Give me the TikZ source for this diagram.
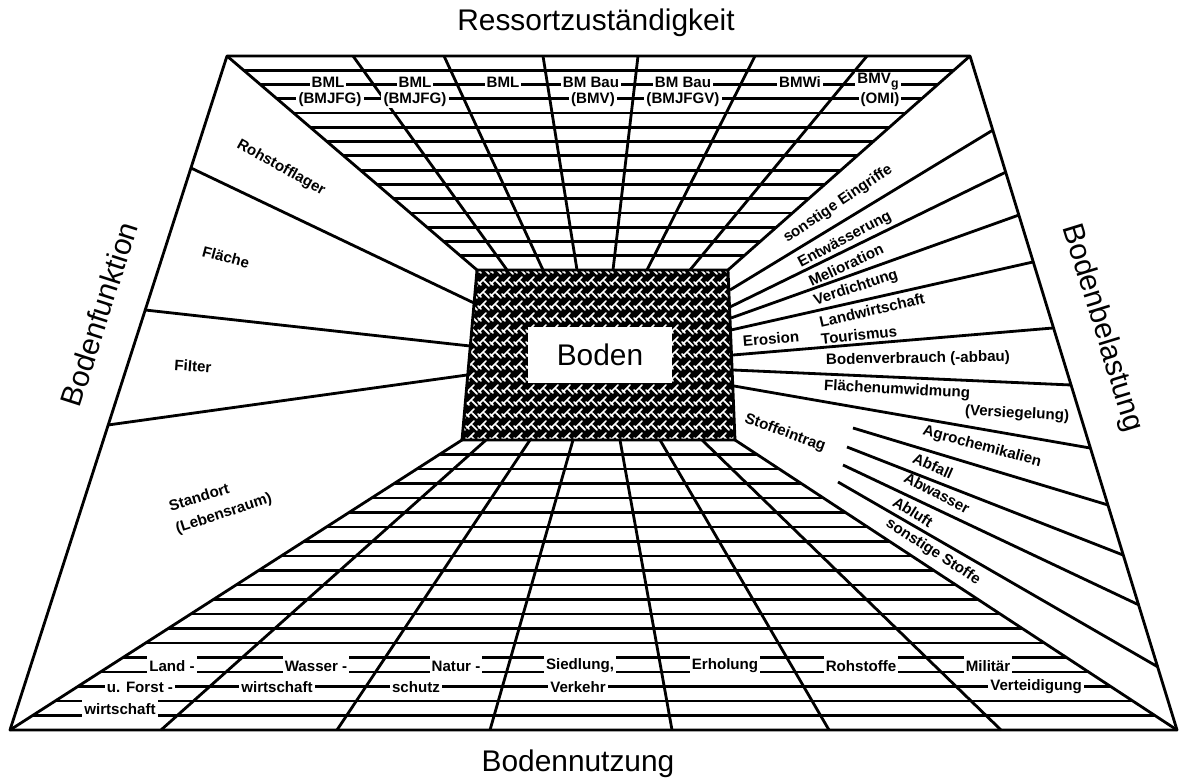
\documentclass[tikz,border=0pt]{standalone}
\usepackage{fontspec}
\setmainfont{Liberation Sans}
\usetikzlibrary{calc}
\begin{document}
\begin{tikzpicture}[x=0.02cm,y=-0.02cm,line width=1.6pt,line join=round,
  lbl/.style={font=\bfseries\fontsize{8.6}{9}\selectfont,inner sep=0.3pt},
  cell/.style={lbl,fill=white,inner xsep=1.2pt,inner ysep=0.8pt},
  tall/.style={cell,minimum height=0.44cm},
  big/.style={font=\fontsize{17}{20}\selectfont,inner sep=0pt}]
\useasboundingbox (0,0) rectangle (1180,783);
% corners of the room
\coordinate (A) at (227,56); \coordinate (B) at (970,56);
\coordinate (C) at (1177,730); \coordinate (D) at (10,730);
\coordinate (a) at (477,270); \coordinate (b) at (728,270);
\coordinate (c) at (735,440); \coordinate (d) at (462,440);
% ceiling
\foreach \k in {1,...,14} \draw ($(A)!\k/15!(a)$) -- ($(B)!\k/15!(b)$);
\foreach \u/\v in {353/507,444/543,543/577,638/613,755/647,867/690} \draw (\u,56) -- (\v,270);
% floor
\foreach \k in {1,...,19} \draw ($(d)!\k/20!(D)$) -- ($(c)!\k/20!(C)$);
\foreach \u/\v in {161/486,337/530,490/573,672/620,829/660,1001/702} \draw (\u,730) -- (\v,440);
% outline
\draw (A) -- (B) -- (C) -- (D) -- cycle;
\draw (A) -- (a) (B) -- (b) (C) -- (c) (D) -- (d);
% left wall
\draw (191,168) -- (474,303) (145,310) -- (470,346) (108,425) -- (467,375);
% right wall
\foreach \xa/\ya/\xb/\yb in {730/290/993/130,730/307/1006/172,731/318/1019/215,731/330/1033/262,
  733/355/1053/328,733/370/1071/385,734/386/1090/448,853/428/1108/505,847/447/1123/555,
  843/465/1139/605,838/482/1158/667} \draw (\xa,\ya) -- (\xb,\yb);
% Boden
\fill (a) -- (b) -- (c) -- (d) -- cycle;
\begin{scope}
\clip (a) -- (b) -- (c) -- (d) -- cycle;
\foreach \i in {0,...,23} \foreach \j in {0,...,14}
  \draw[white,line width=1pt,line cap=round] ({455+12*\i},{264+12*\j}) ++(0,8) -- ++(7,-7) ++(-2,4) -- ++(5,5) ++(-8,-1) -- ++(-3,-3);
\end{scope}
\draw (a) -- (b) -- (c) -- (d) -- cycle;
\node[big,fill=white,minimum width=2.88cm,minimum height=1.12cm] (boden) at (600,355) {Boden};
% titles
\node[big] (ressort) at (596,23) {Ressortzuständigkeit};
\node[big] (nutzung) at (578,764) {Bodennutzung};
\node[big,rotate=72.2] (funktion) at (99,314) {Bodenfunktion};
\node[big,rotate=-72.9] (belastung) at (1102,328) {Bodenbelastung};
% ceiling labels
\foreach \x/\t in {328/BML,415/BML,503/BML,591/BM Bau,683/BM Bau,800/BMWi}
  \node[cell] (m\x) at (\x,82) {\t};
\node[cell] (bmvg) at (878,82) {BMV\raisebox{-.5ex}{\scriptsize g}};
\foreach \x/\t in {330/{(BMJFG)},415/{(BMJFG)},593/{(BMV)},683/{(BMJFGV)},880/{(OMI)}}
  \node[cell] (n\x) at (\x,100) {\t};
% floor labels
\foreach \x/\t in {172/Land -,316/Wasser -,456/Natur -,580/{Siedlung,},725/Erholung,861/Rohstoffe,988/Militär}
  \node[tall] (f\x) at (\x,666) {\t};
\foreach \x/\t in {140/u. Forst -,277/wirtschaft,416/schutz,578/Verkehr,1036/Verteidigung}
  \node[cell] (g\x) at (\x,687) {\t};
\node[tall] (wirt) at (120,709) {wirtschaft};
% Bodenfunktion labels
\node[lbl,rotate=-29] (rohstoff) at (281,168) {Rohstofflager};
\node[lbl,rotate=-15] (flaeche) at (226,257) {Fläche};
\node[lbl,rotate=-4] (filter) at (193,366) {Filter};
\node[lbl,rotate=17] (standort) at (199,497) {Standort};
\node[lbl,rotate=18] (lebensraum) at (224,514) {(Lebensraum)};
% Bodenbelastung labels
\node[lbl,rotate=34] (sonstE) at (838,204) {sonstige Eingriffe};
\node[lbl,rotate=28] (entw) at (845,240) {Entwässerung};
\node[lbl,rotate=25] (melio) at (846,265) {Melioration};
\node[lbl,rotate=18] (verd) at (856,288) {Verdichtung};
\node[lbl,rotate=13] (landw) at (872,310) {Landwirtschaft};
\node[lbl,rotate=6] (tour) at (859,335) {Tourismus};
\node[lbl,rotate=5] (eros) at (771,339) {Erosion};
\node[lbl,rotate=1] (verbr) at (918,359) {Bodenverbrauch (-abbau)};
\node[lbl,rotate=-3] (umw) at (897,390) {Flächenumwidmung};
\node[lbl,rotate=-3] (versieg) at (1017,414) {(Versiegelung)};
\node[lbl,rotate=-20] (stoff) at (785,433) {Stoffeintrag};
\node[lbl,rotate=-15] (agro) at (982,447) {Agrochemikalien};
\node[lbl,rotate=-24] (abfall) at (933,466) {Abfall};
\node[lbl,rotate=-28] (abw) at (937,493) {Abwasser};
\node[lbl,rotate=-32] (abluft) at (913,512) {Abluft};
\node[lbl,rotate=-33] (sonstS) at (933,552) {sonstige Stoffe};
\end{tikzpicture}
\end{document}
